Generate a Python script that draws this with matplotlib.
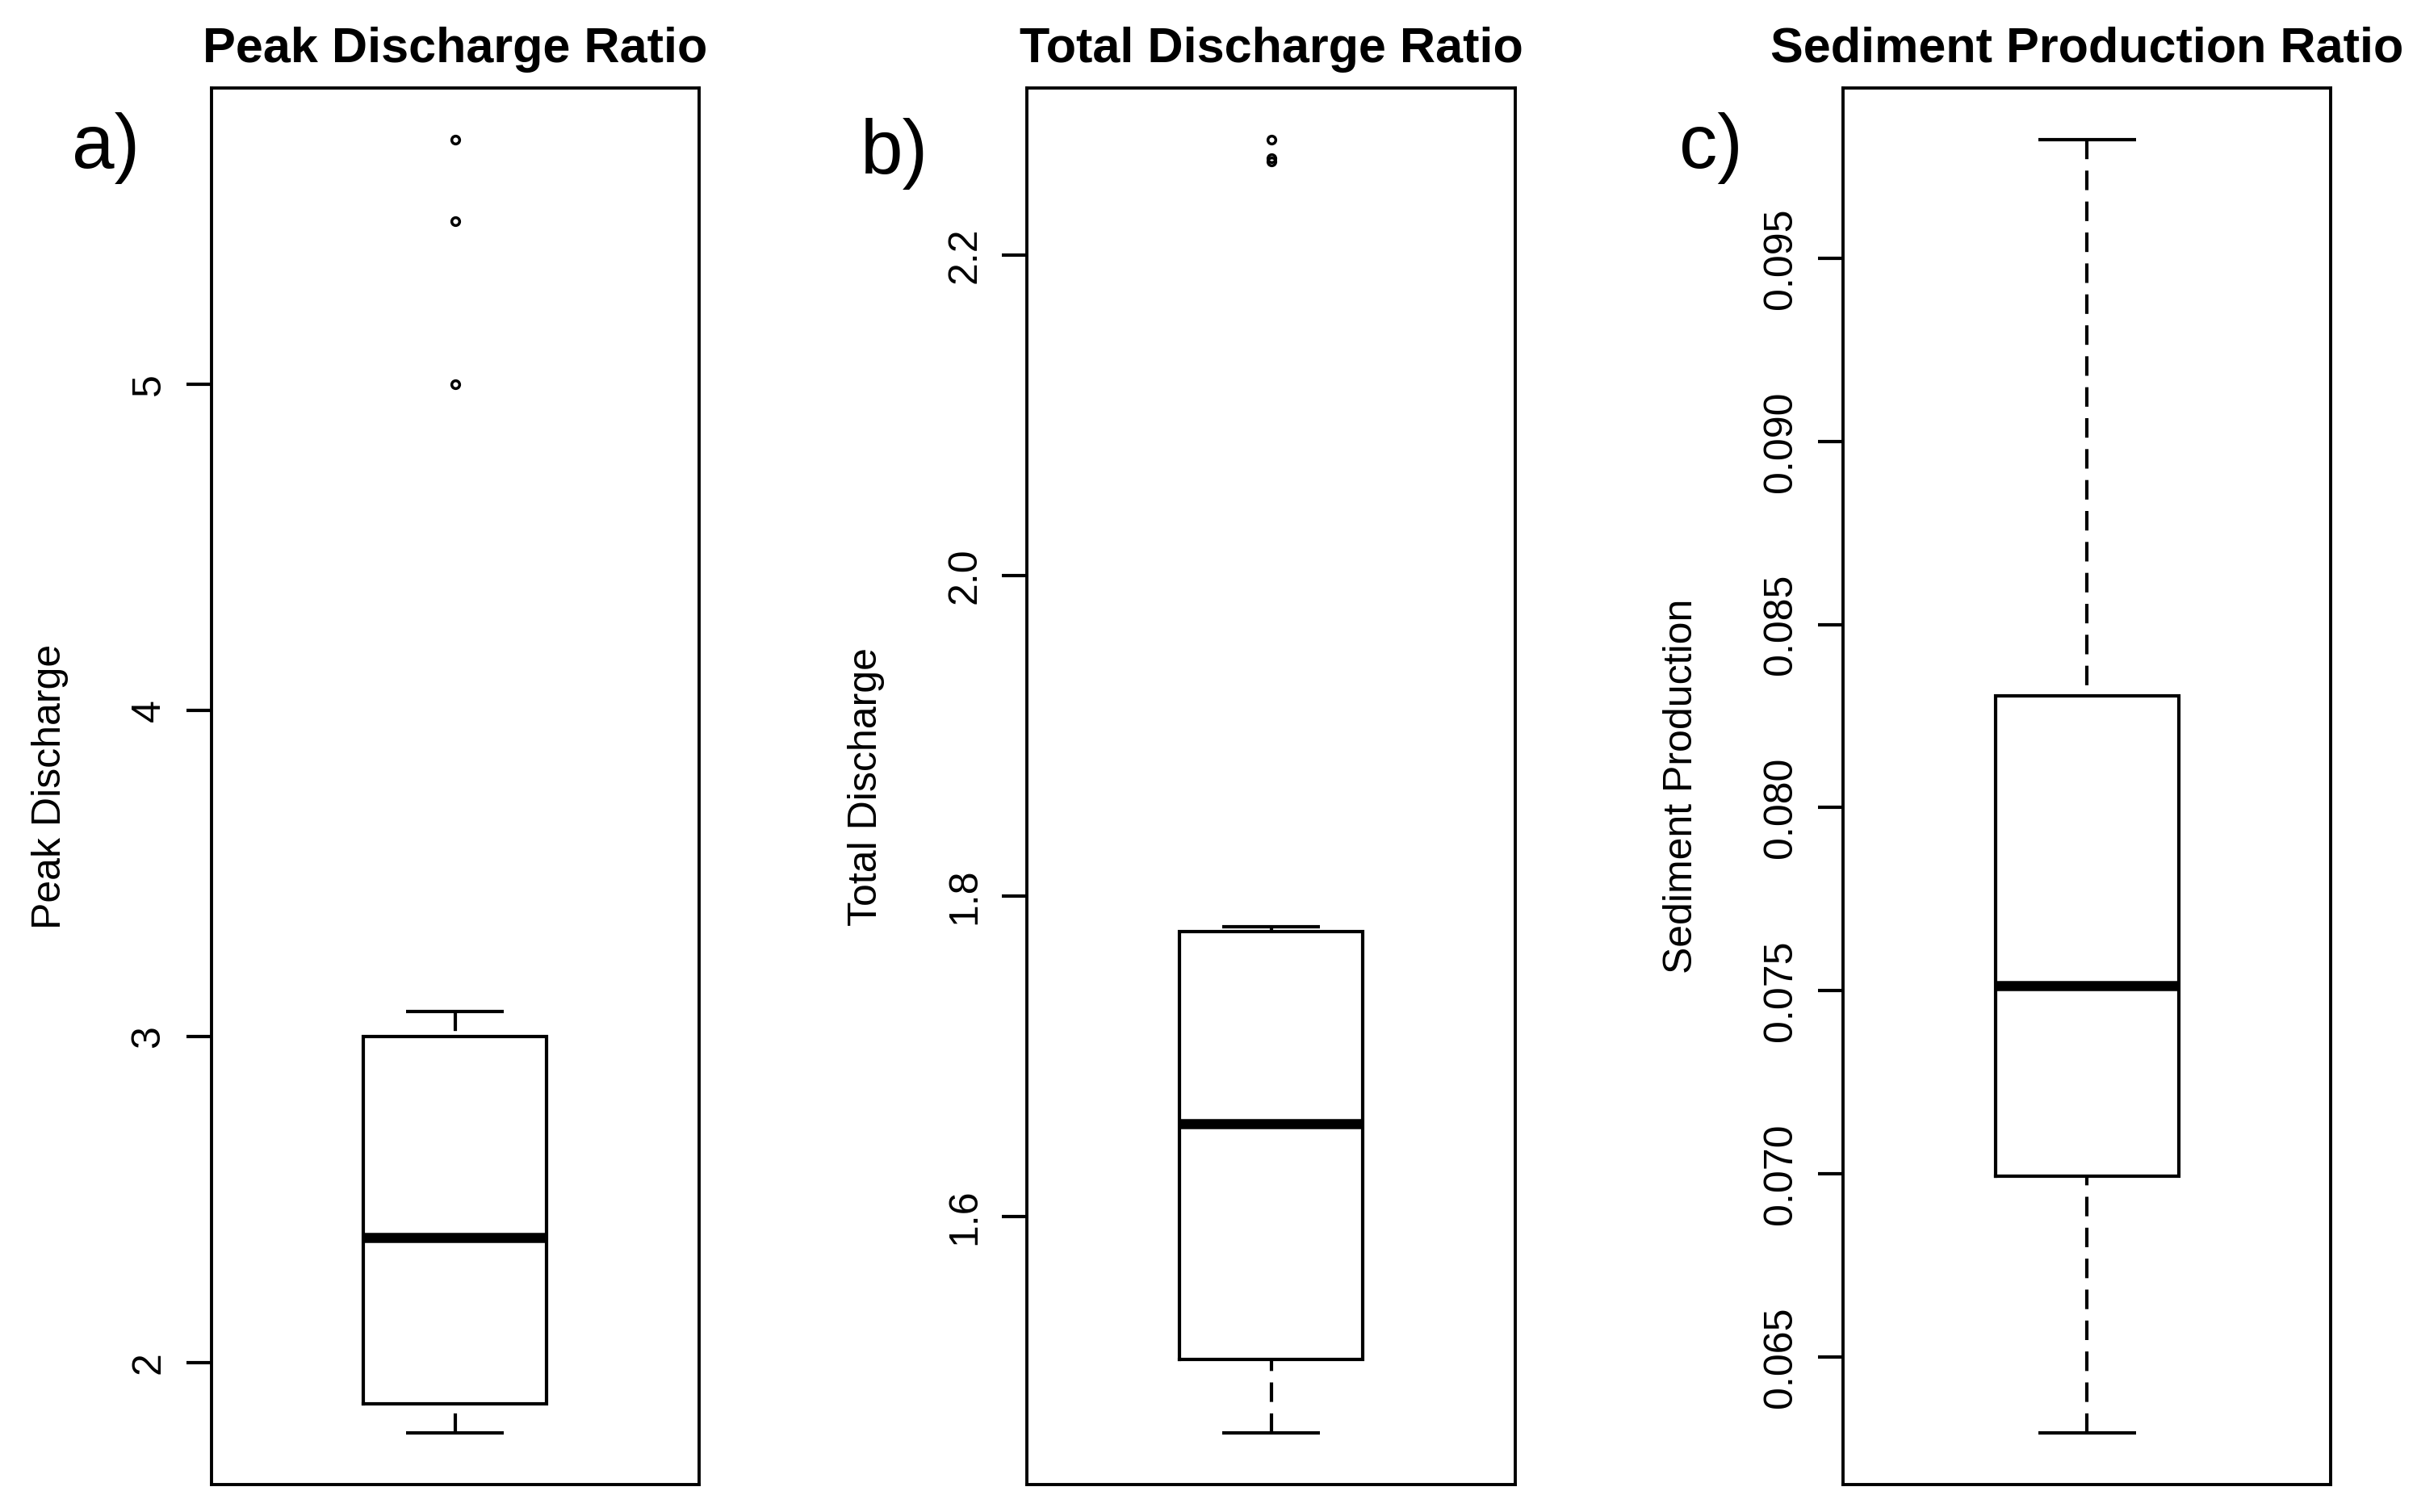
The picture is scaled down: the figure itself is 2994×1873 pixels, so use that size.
import matplotlib
matplotlib.use("Agg")
from matplotlib import pyplot as plt

plt.rcParams['font.family'] = ['Liberation Sans', 'DejaVu Sans']

titles = ["Peak Discharge Ratio", "Total Discharge Ratio", "Sediment Production Ratio"]
ylabels = ["Peak Discharge", "Total Discharge", "Sediment Production"]
letters = ["a)", "b)", "c)"]

# lower whisker, Q1, median, Q3, upper whisker
peak_stats = [1.784, 1.874, 2.385, 3.000, 3.078]
peak_outliers = [5.00, 5.50, 5.75]
total_stats = [1.465, 1.511, 1.658, 1.778, 1.781]
total_outliers = [2.2585, 2.2605, 2.272]
sed_stats = [0.06292, 0.06994, 0.07514, 0.08306, 0.09824]
sed_outliers = []

peak_ticks = [2, 3, 4, 5]
peak_ticklabels = ["2", "3", "4", "5"]
total_ticks = [1.6, 1.8, 2.0, 2.2]
total_ticklabels = ["1.6", "1.8", "2.0", "2.2"]
sed_ticks = [0.065, 0.070, 0.075, 0.080, 0.085, 0.090, 0.095]
sed_ticklabels = ["0.065", "0.070", "0.075", "0.080", "0.085", "0.090", "0.095"]

panels = [
    (peak_stats, peak_outliers, peak_ticks, peak_ticklabels),
    (total_stats, total_outliers, total_ticks, total_ticklabels),
    (sed_stats, sed_outliers, sed_ticks, sed_ticklabels),
]

fig = plt.figure(figsize=(29.94, 18.73), dpi=100)
lefts = [0.0874, 0.4250, 0.7625]
letter_pos = [(0.0297, 0.8891), (0.356, 0.885), (0.6947, 0.8891)]

for i, (st, outl, ticks, tlabels) in enumerate(panels):
    ax = fig.add_axes([lefts[i], 0.0179, 0.2019, 0.924])
    stats = dict(whislo=st[0], q1=st[1], med=st[2], q3=st[3], whishi=st[4], fliers=outl)
    res = ax.bxp([stats], positions=[1], widths=0.3755, capwidths=0.2, manage_ticks=False,
                 boxprops=dict(lw=3, color='k', solid_joinstyle='miter'),
                 medianprops=dict(lw=9, color='k', solid_capstyle='butt'),
                 whiskerprops=dict(lw=3, color='k', linestyle=(0, (5.8, 3.4))),
                 capprops=dict(lw=3, color='k', solid_capstyle='butt'),
                 flierprops=dict(marker='o', mfc='none', mec='k', ms=7, mew=2.5, linestyle='none'))
    # R draws whiskers from the staple towards the box
    for w in res['whiskers']:
        w.set_data(w.get_xdata()[::-1], w.get_ydata()[::-1])

    lo = min([st[0]] + outl)
    hi = max([st[4]] + outl)
    ext = 0.04 * (hi - lo)
    ax.set_ylim(lo - ext, hi + ext)
    ax.set_xlim(0.5, 1.5)
    ax.set_xticks([])
    ax.set_yticks(ticks, tlabels, rotation=90, va='center')
    ax.tick_params(axis='y', length=22, width=3, pad=17, labelsize=36)
    for sp in ax.spines.values():
        sp.set_linewidth(2.8)
    ax.set_title(titles[i], fontsize=44, fontweight='bold', pad=23)
    ax.set_ylabel(ylabels[i], fontsize=36)
    ax.yaxis.set_label_coords(-0.292, 0.5)
    fig.text(letter_pos[i][0], letter_pos[i][1], letters[i], fontsize=68,
             ha='left', va='baseline')

fig.savefig("out.png", dpi=100)
